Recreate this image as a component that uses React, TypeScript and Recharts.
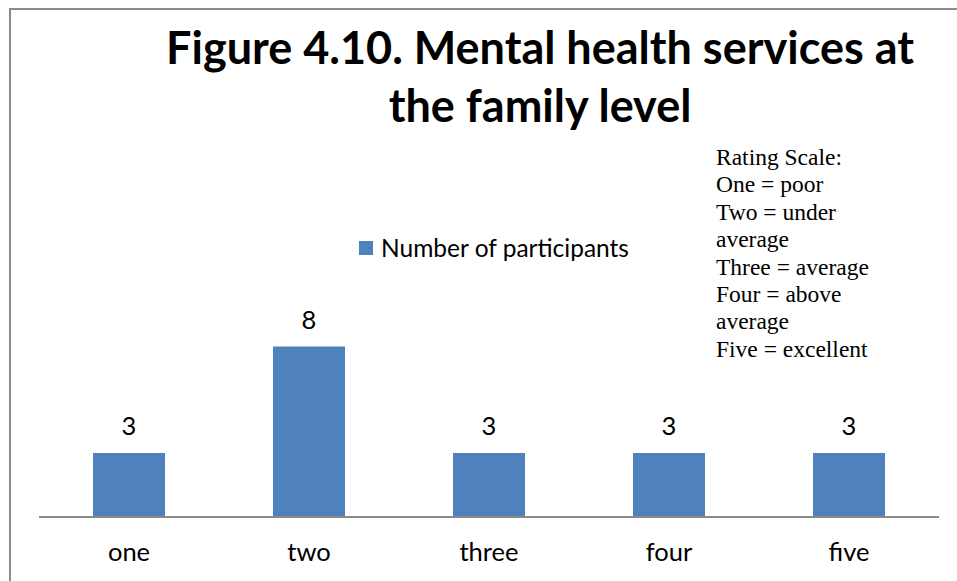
import { Bar, BarChart, LabelList, Legend, XAxis, YAxis } from 'recharts';

const categories = ['one', 'two', 'three', 'four', 'five'];
const participants = [3, 8, 3, 3, 3];
const titleLines = ['Figure 4.10. Mental health services at', 'the family level'];
const ratingScaleLines = [
  'Rating Scale:',
  'One = poor',
  'Two = under',
  'average',
  'Three = average',
  'Four = above',
  'average',
  'Five = excellent',
];

const WIDTH = 957;
const HEIGHT = 581;
const BAR_COLOR = '#4f81bd';
const FONT = 'Lato, "Open Sans", sans-serif';

const data = categories.map((rating, i) => ({ rating, participants: participants[i] }));

const CategoryTick = ({ x, y, payload }: { x?: number; y?: number; payload?: { value: string } }) => (
  <text x={x} y={(y ?? 0) + 36} textAnchor="middle" fontFamily={FONT} fontSize={25.5} fill="#000">
    {payload?.value}
  </text>
);

const LegendContent = () => (
  <div style={{ display: 'flex', alignItems: 'center', fontFamily: FONT, fontSize: 24.5, color: '#000', whiteSpace: 'nowrap' }}>
    <span style={{ width: 14, height: 14, background: BAR_COLOR, marginRight: 8, display: 'inline-block' }} />
    <span>Number of participants</span>
  </div>
);

const App = () => (
  <div style={{ position: 'absolute', left: 0, top: 0, width: WIDTH, height: HEIGHT, overflow: 'hidden', background: '#fff' }}>
    {/* chart frame, cut off on the right and bottom like the source */}
    <div
      style={{
        position: 'absolute',
        left: 9,
        top: 8,
        width: 980,
        height: 620,
        border: '2px solid #8a8a8a',
      }}
    />
    <div
      style={{
        position: 'absolute',
        left: 90,
        top: 18,
        width: 900,
        textAlign: 'center',
        fontFamily: FONT,
        fontWeight: 700,
        fontSize: 45,
        lineHeight: '58px',
        color: '#000',
      }}
    >
      {titleLines.map((line) => (
        <div key={line}>{line}</div>
      ))}
    </div>
    <div
      style={{
        position: 'absolute',
        left: 716,
        top: 144,
        fontFamily: '"Liberation Serif", "Times New Roman", serif',
        fontSize: 23.5,
        lineHeight: '27.4px',
        color: '#000',
        whiteSpace: 'nowrap',
      }}
    >
      {ratingScaleLines.map((line, i) => (
        <div key={i}>{line}</div>
      ))}
    </div>
    <div style={{ position: 'absolute', left: 0, top: 0 }}>
      <BarChart
        width={WIDTH}
        height={HEIGHT}
        data={data}
        margin={{ top: 304, right: 18, bottom: 24, left: 39 }}
        barCategoryGap="30%"
      >
        <XAxis
          dataKey="rating"
          height={40}
          axisLine={{ stroke: '#8a8a8a', strokeWidth: 2 }}
          tickLine={false}
          tick={<CategoryTick />}
          interval={0}
        />
        <YAxis hide domain={[0, 10]} />
        <Legend
          layout="vertical"
          align="center"
          verticalAlign="middle"
          content={<LegendContent />}
          wrapperStyle={{ position: 'absolute', left: 359, top: 233, width: 'auto' }}
        />
        <Bar dataKey="participants" fill={BAR_COLOR} isAnimationActive={false}>
          <LabelList dataKey="participants" position="top" offset={18} fontFamily={FONT} fontSize={25.5} fill="#000" />
        </Bar>
      </BarChart>
    </div>
  </div>
);

export default App;
